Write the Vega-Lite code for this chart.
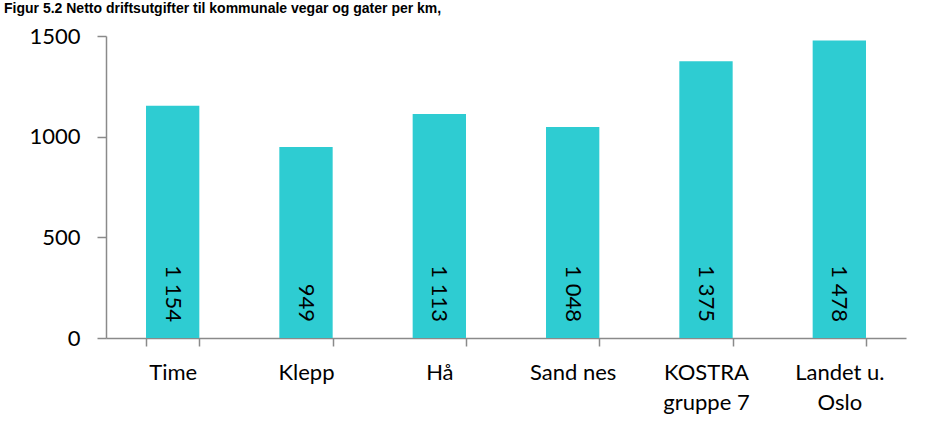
{
  "$schema": "https://vega.github.io/schema/vega-lite/v6.json",
  "width": 800,
  "height": 302,
  "autosize": "none",
  "padding": {"left": 106, "top": 36, "right": 19, "bottom": 90},
  "background": "white",
  "config": {
    "view": {"stroke": null},
    "font": "Lato",
    "locale": {"number": {"decimal": ",", "thousands": " ", "grouping": [3], "currency": ["", " kr"]}}
  },
  "title": {
    "text": "Figur 5.2 Netto driftsutgifter til kommunale vegar og gater per km,",
    "anchor": "start",
    "frame": "group",
    "dx": -102,
    "dy": 5,
    "offset": 0,
    "baseline": "bottom",
    "font": "Liberation Sans",
    "fontWeight": "bold",
    "fontSize": 14,
    "color": "black"
  },
  "data": {
    "values": [
      {"omrade": "Time", "verdi": 1154},
      {"omrade": "Klepp", "verdi": 949},
      {"omrade": "Hå", "verdi": 1113},
      {"omrade": "Sand nes", "verdi": 1048},
      {"omrade": "KOSTRA gruppe 7", "verdi": 1375},
      {"omrade": "Landet u. Oslo", "verdi": 1478}
    ]
  },
  "encoding": {
    "x": {
      "field": "omrade",
      "type": "nominal",
      "sort": null,
      "scale": {"paddingInner": 0.6, "paddingOuter": 0.3},
      "axis": {
        "title": null,
        "labelAngle": 0,
        "tickBand": "extent",
        "tickSize": 8,
        "tickWidth": 1.5,
        "tickColor": "#8a8a8a",
        "domainColor": "#8a8a8a",
        "domainWidth": 1.5,
        "labelFont": "Lato",
        "labelFontSize": 22,
        "labelColor": "black",
        "labelPadding": 16,
        "labelLineHeight": 30,
        "labelExpr": "datum.value == 'KOSTRA gruppe 7' ? ['KOSTRA', 'gruppe 7'] : datum.value == 'Landet u. Oslo' ? ['Landet u.', 'Oslo'] : datum.value"
      }
    }
  },
  "layer": [
    {
      "mark": {"type": "bar", "color": "#2ECCD2"},
      "encoding": {
        "y": {
          "field": "verdi",
          "type": "quantitative",
          "scale": {"domain": [0, 1500], "nice": false},
          "axis": {
            "title": null,
            "values": [0, 500, 1000, 1500],
            "format": "d",
            "grid": false,
            "tickSize": 9,
            "tickWidth": 1.5,
            "tickColor": "#8a8a8a",
            "domainColor": "#8a8a8a",
            "domainWidth": 1.5,
            "labelFont": "Lato",
            "labelFontSize": 22,
            "labelColor": "black",
            "labelPadding": 17
          }
        }
      }
    },
    {
      "mark": {"type": "text", "angle": 90, "align": "right", "baseline": "middle", "dx": -16, "fontSize": 22, "font": "Lato", "color": "black"},
      "encoding": {
        "y": {"datum": 0, "type": "quantitative"},
        "text": {"field": "verdi", "type": "quantitative", "format": ",d"}
      }
    }
  ]
}
